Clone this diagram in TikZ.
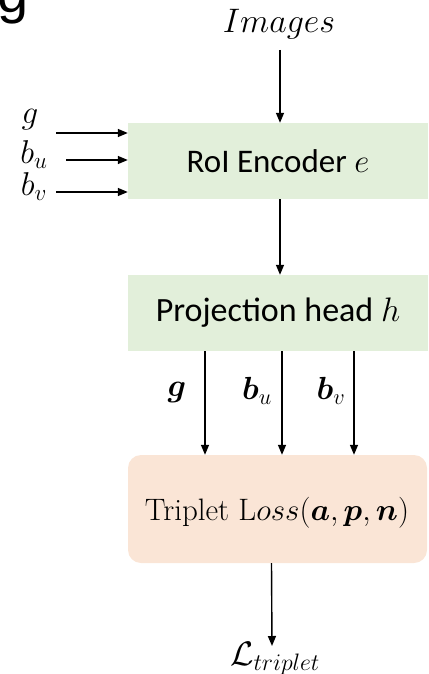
\RequirePackage{fix-cm}
\documentclass[tikz,border=0pt]{standalone}
\usepackage{fontspec}
\usepackage{bm}
\newfontfamily\calibri{Carlito}
\newfontfamily\headsans{Liberation Sans}
\usetikzlibrary{arrows.meta}
\definecolor{encgreen}{RGB}{226,239,218}
\definecolor{losspeach}{RGB}{250,229,214}
\tikzset{
  flow/.style={line width=1.4pt,-{Triangle[length=10pt,width=8pt]}},
  greenbox/.style={rectangle,fill=encgreen,minimum width=300pt,minimum height=76pt,inner sep=0pt},
  lossbox/.style={rectangle,rounded corners=13pt,fill=losspeach,minimum width=299pt,minimum height=108pt,inner sep=0pt},
  lbl/.style={inner sep=0pt,anchor=center}
}
\begin{document}
\begin{tikzpicture}[x=1pt,y=-1pt]
\useasboundingbox (0,0) rectangle (428,674);
\begin{scope}
\clip (0,0) rectangle (428,674);
% tail of a heading letter at the top left
\node[lbl,anchor=base west] (headg) at (-3,13) {\headsans\fontsize{56}{60}\selectfont g};
\end{scope}

% blocks
\node[greenbox] (enc) at (278,161) {\calibri\fontsize{33}{38}\selectfont RoI Encoder $e$};
\node[greenbox] (proj) at (278,313) {\calibri\fontsize{34}{40}\selectfont Projection head $h$};
\node[lossbox] (loss) at (277.5,509) {};
\node[lbl] (losstxt) at (277,513) {\fontsize{31}{36}\selectfont Triplet L$oss(\bm{a},\bm{p},\bm{n})$};

% image input
\node[lbl] (imgs) at (279,24) {\fontsize{34}{40}\selectfont $Images$};
\coordinate (imgtail) at (280,50);
\draw[flow] (imgtail) -- (imgtail |- enc.north);

% box inputs on the left
\node[lbl] (gin) at (30,120) {\fontsize{33}{38}\selectfont $g$};
\node[lbl] (buin) at (34,155) {\fontsize{33}{38}\selectfont $b_u$};
\node[lbl] (bvin) at (34,187) {\fontsize{33}{38}\selectfont $b_v$};
\coordinate (gtail) at (56,133);
\coordinate (butail) at (66,160);
\coordinate (bvtail) at (56,192);
\draw[flow] (gtail) -- (gtail -| enc.west);
\draw[flow] (butail) -- (butail -| enc.west);
\draw[flow] (bvtail) -- (bvtail -| enc.west);

% encoder to projection head
\draw[flow] ([xshift=2pt]enc.south) -- ([xshift=2pt]proj.north);

% embeddings into the loss
\draw[flow] ([xshift=-73pt]proj.south) -- ([xshift=-73pt]proj.south |- loss.north);
\draw[flow] ([xshift=4pt]proj.south) -- ([xshift=4pt]proj.south |- loss.north);
\draw[flow] ([xshift=76pt]proj.south) -- ([xshift=76pt]proj.south |- loss.north);
\node[lbl] (gemb) at (177,392) {\fontsize{32}{38}\selectfont $\bm{g}$};
\node[lbl] (buemb) at (257,391) {\fontsize{32}{38}\selectfont $\bm{b}_u$};
\node[lbl] (bvemb) at (331,391) {\fontsize{32}{38}\selectfont $\bm{b}_v$};

% loss output
\node[lbl] (ltrip) at (275,659) {\fontsize{34}{40}\selectfont $\mathcal{L}_{triplet}$};
\coordinate (losshead) at (272,646);
\draw[flow] ([xshift=-6pt]loss.south) -- (losshead);
\end{tikzpicture}
\end{document}
